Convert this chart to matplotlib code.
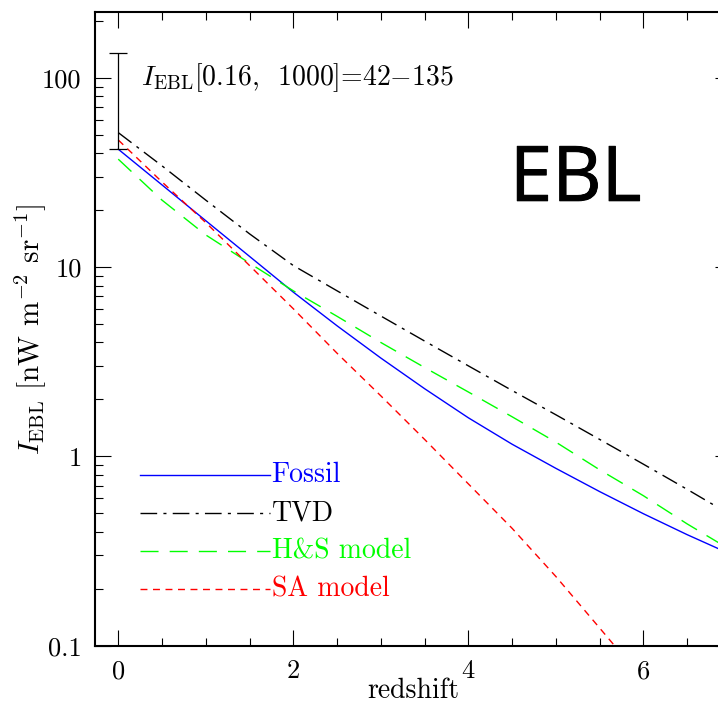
import matplotlib
matplotlib.use("Agg")
import matplotlib.pyplot as plt
import matplotlib.patheffects as pe
from matplotlib.ticker import MultipleLocator, NullFormatter, LogLocator

plt.rcParams['font.family'] = ['cmr10']
plt.rcParams['mathtext.fontset'] = 'cm'
plt.rcParams['axes.unicode_minus'] = False

# redshift grid the curves are tabulated on
z = [0.0, 0.5, 1.0, 1.5, 2.0, 2.5, 3.0, 3.5, 4.0, 4.5, 5.0, 5.5, 6.0, 6.5, 7.0]

# EBL intensity above redshift z  [nW m^-2 sr^-1]
fossil = [42.0, 27.2, 17.6, 11.4, 7.38, 4.90, 3.31, 2.28, 1.60, 1.16, 0.865, 0.652, 0.498, 0.386, 0.304]
tvd = [51.4, 34.3, 22.6, 15.0, 10.2, 7.50, 5.52, 4.07, 3.01, 2.23, 1.66, 1.23, 0.91, 0.67, 0.49]
hs_model = [37.2, 22.6, 14.8, 10.5, 7.5, 5.5, 4.0, 2.95, 2.19, 1.62, 1.19, 0.85, 0.62, 0.44, 0.32]
sa_model = [47.0, 28.2, 17.2, 10.2, 6.03, 3.51, 2.09, 1.23, 0.716, 0.417, 0.232, 0.124, 0.066]

# measured range of the integrated EBL
ebl_low, ebl_high = 42, 135

series = [
    ("Fossil", z, fossil, "#0000ff", dict(linestyle="-")),
    ("TVD", z, tvd, "black", dict(dashes=(12, 4.5, 2.2, 4.5))),
    ("H&S model", z, hs_model, "#00ff00", dict(dashes=(13, 8))),
    ("SA model", z[:len(sa_model)], sa_model, "#ff0000", dict(dashes=(5, 4))),
]

fig = plt.figure(figsize=(7.18, 7.09), dpi=100)
ax = fig.add_axes([0.133, 0.0893, 0.885, 0.8938])

for name, xs, ys, col, style in series:
    ax.plot(xs, ys, color=col, lw=1.0, **style)

# error bar for the integrated value
ax.errorbar([0], [ebl_low], yerr=[[0], [ebl_high - ebl_low]], color="black",
            lw=0.9, capsize=6.5, capthick=0.9)

ax.text(0.0716, 0.8848,
        r"$I_{\rm EBL}$[0.16,  1000]=42$-$135",
        transform=ax.transAxes, fontsize=20, va="baseline", ha="left")

ax.text(0.652, 0.702, "EBL", family="Open Sans", fontsize=55,
        transform=ax.transAxes, va="baseline", ha="left",
        path_effects=[pe.withStroke(linewidth=0.7, foreground="black")])

# hand-drawn key
key_y = [0.2694, 0.2094, 0.1494, 0.0895]
for (name, xs, ys, col, style), ky in zip(series, key_y):
    ax.plot([0.070, 0.2746], [ky, ky], transform=ax.transAxes, color=col,
            lw=1.0, **style)
    ax.text(0.277, ky, name, transform=ax.transAxes, color=col, fontsize=20,
            va="center", ha="left")

ax.set_yscale("log")
ax.set_xlim(-0.26, 7.0)
ax.set_ylim(0.1, 223)

ax.xaxis.set_major_locator(MultipleLocator(2))
ax.xaxis.set_minor_locator(MultipleLocator(0.5))
ax.set_xticks([0, 2, 4, 6], labels=["0", "2", "4", "6"])
ax.set_yticks([0.1, 1, 10, 100], labels=["0.1", "1", "10", "100"])
ax.yaxis.set_minor_locator(LogLocator(base=10, subs=range(2, 10)))
ax.yaxis.set_minor_formatter(NullFormatter())

ax.tick_params(which="both", direction="in", top=True, right=True,
               labelsize=19, width=0.8)
ax.tick_params(which="major", length=11.5, pad=10)
ax.tick_params(which="minor", length=5.8)
for sp in ax.spines.values():
    sp.set_linewidth(1.5)

ax.set_xlabel("redshift", fontsize=20, labelpad=-4)
ax.set_ylabel(r"$I_{\rm EBL}$ [nW m$^{-2}$ sr$^{-1}$]", fontsize=21, labelpad=-4)

fig.savefig("out.png", dpi=100)
